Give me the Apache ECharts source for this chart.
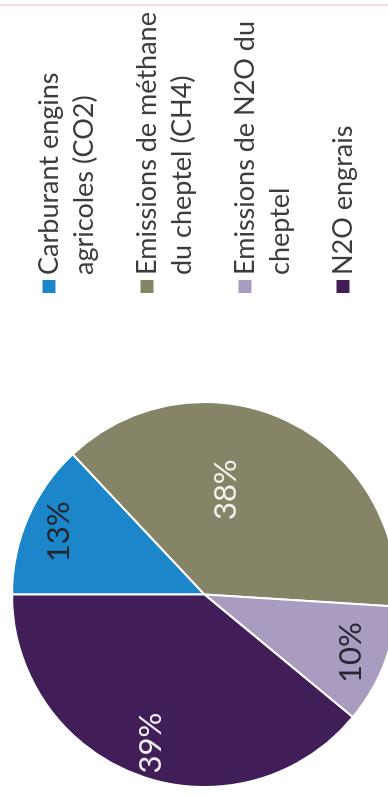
<!DOCTYPE html>
<html>
<head>
<meta charset="utf-8">
<script src="https://cdn.jsdelivr.net/npm/echarts@6/dist/echarts.min.js"></script>
<style>
  html, body { margin: 0; padding: 0; background: #fff; overflow: hidden; width: 388px; height: 795px; }
  /* The chart is laid out landscape and turned a quarter turn to read bottom-to-top */
  #chart { position: absolute; left: 0; top: 0; width: 795px; height: 388px;
           transform-origin: 0 0; transform: translate(0, 795px) rotate(-90deg); }
</style>
</head>
<body>
<div id="chart"></div>
<script>
// Agricultural greenhouse-gas emissions by source (%)
const categories = [
  'Carburant engins\nagricoles (CO2)',
  'Emissions de méthane\ndu cheptel (CH4)',
  'Emissions de N2O du\ncheptel',
  'N2O engrais'
];
const values = [13, 38, 10, 39];

// Styling per slice
const sliceColors = ['#1b86c9', '#868467', '#aa9bc1', '#411e57'];
const labelColors = ['#25252e', '#f3f3ee', '#2a2634', '#f3f0f5'];
// Labels sitting toward the rim (true) or nearer the centre (false)
const labelOnRim = [true, false, true, true];
// Nudge for the centre-side label so it sits in the open part of its slice
const centreLabelShift = { dx: 15, dy: -21 };

const FONT = 'Lato';
const CX = 200.5, CY = 204.5, R = 192.5;
const LINE_H = 35;

const chart = echarts.init(document.getElementById('chart'), null, { renderer: 'canvas' });

const labelBase = { position: 'inside', fontFamily: FONT, fontSize: 31, formatter: '{c}%' };

// Legend text is padded with blank lines so the marker lines up with the first text line
function legendText(name) {
  const lines = name.split('\n');
  return lines.length > 1 ? '\n' + name : '\n' + name + '\n';
}

const option = {
  animation: false,
  backgroundColor: '#ffffff',
  graphic: [{
    type: 'line', silent: true,
    shape: { x1: 790, y1: 0, x2: 790, y2: 388 },
    style: { stroke: '#f1d5d5', lineWidth: 1.5 }
  }],
  legend: {
    orient: 'vertical',
    left: 502, top: -3.5,
    height: 600,
    padding: 0,
    itemWidth: 13, itemHeight: 13, itemGap: -7,
    icon: 'rect',
    selectedMode: false,
    itemStyle: { borderWidth: 0 },
    formatter: legendText,
    textStyle: { fontFamily: FONT, fontSize: 27, lineHeight: LINE_H, color: '#3c3c3c' },
    data: categories
  },
  series: [
    {
      type: 'pie',
      center: [CX, CY],
      radius: R,
      startAngle: 90,
      clockwise: true,
      silent: true,
      itemStyle: { borderColor: '#ffffff', borderWidth: 2 },
      labelLine: { show: false },
      label: { show: false },
      emphasis: { disabled: true },
      labelLayout: () => centreLabelShift,
      data: categories.map((n, i) => ({
        name: n,
        value: values[i],
        itemStyle: { color: sliceColors[i] },
        label: labelOnRim[i]
          ? { show: false }
          : Object.assign({}, labelBase, { show: true, color: labelColors[i] })
      }))
    },
    {
      // transparent ring carrying the rim-side labels
      type: 'pie',
      center: [CX, CY],
      radius: [117.5, R],
      startAngle: 90,
      clockwise: true,
      silent: true,
      legendHoverLink: false,
      itemStyle: { color: 'rgba(0,0,0,0)', borderWidth: 0 },
      labelLine: { show: false },
      emphasis: { disabled: true },
      data: categories.map((n, i) => ({
        name: n,
        value: values[i],
        label: labelOnRim[i]
          ? Object.assign({}, labelBase, { show: true, color: labelColors[i] })
          : { show: false }
      }))
    }
  ]
};

chart.setOption(option);
</script>
</body>
</html>
